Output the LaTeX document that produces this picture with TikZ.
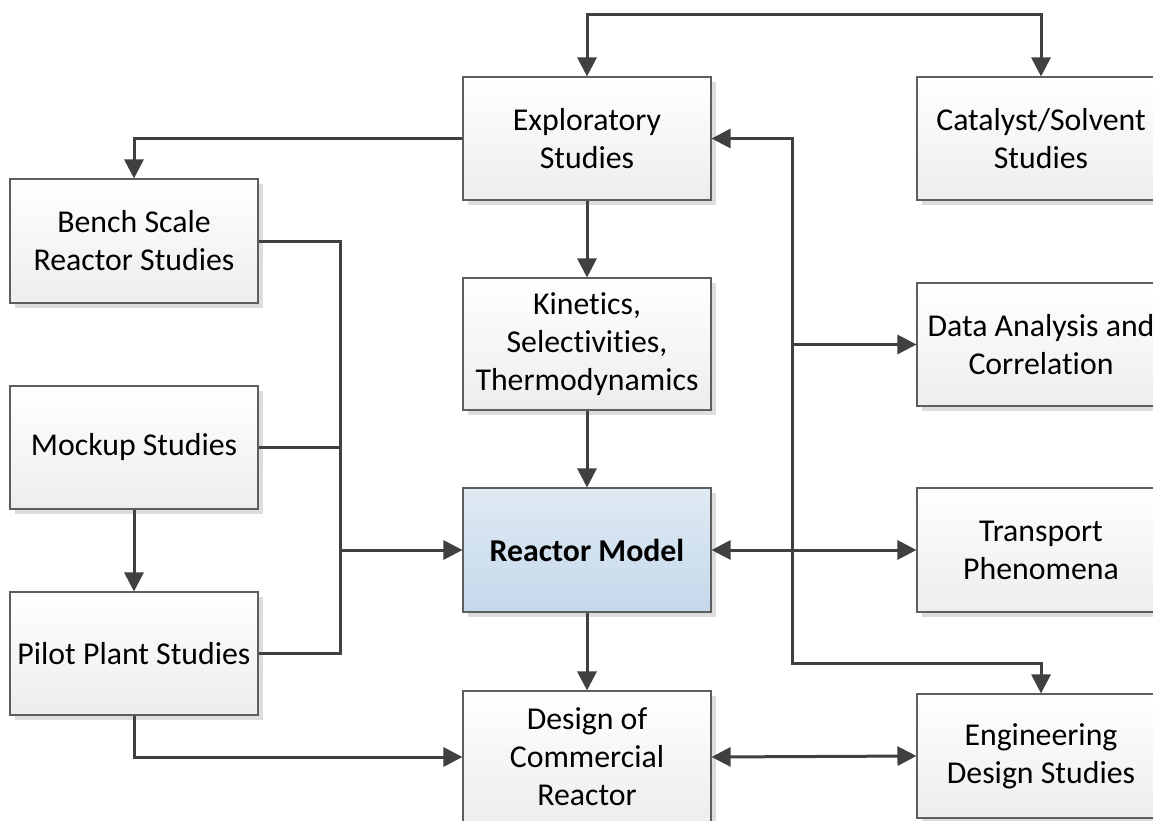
\documentclass[tikz,border=0pt]{standalone}
\usepackage{fontspec}
\setmainfont{Carlito}[Ligatures=NoCommon]
\usetikzlibrary{arrows.meta,shadows}

\definecolor{boxline}{HTML}{5E5E5E}
\definecolor{boxbottom}{HTML}{EDEDED}
\definecolor{modeltop}{HTML}{E0EAF4}
\definecolor{modelbottom}{HTML}{C4D8EA}
\definecolor{wire}{HTML}{404040}
\definecolor{shade}{HTML}{DDDDDD}

\tikzset{
  stagebox/.style={draw=boxline, line width=1.1pt, top color=white, bottom color=boxbottom,
    minimum width=248pt, minimum height=123pt, inner sep=0pt, align=center,
    font=\fontsize{31.8}{38}\selectfont,
    drop shadow={shadow xshift=5pt, shadow yshift=-5pt, fill=shade, opacity=1}},
  tallbox/.style={stagebox, minimum height=132pt},
  modelbox/.style={stagebox, top color=modeltop, bottom color=modelbottom,
    font=\fontsize{31.8}{38}\selectfont\bfseries},
  wireline/.style={draw=wire, line width=3pt},
  flow/.style={wireline, -{Triangle[length=19pt,width=19pt]}},
  twoway/.style={wireline, {Triangle[length=19pt,width=19pt]}-{Triangle[length=19pt,width=19pt]}},
}

\begin{document}
\begin{tikzpicture}[x=1pt, y=-1pt]
  \clip (0,0) rectangle (1153,821);
  \fill[white] (0,0) rectangle (1153,821);

  % boxes
  \node[stagebox] (expl)   at (587,138.5)  {Exploratory\\Studies};
  \node[stagebox] (cat)    at (1041,138.5) {Catalyst/Solvent\\Studies};
  \node[stagebox, minimum height=124pt] (bench) at (134,241) {Bench Scale\\Reactor Studies};
  \node[tallbox]  (kin)    at (587,344)    {Kinetics,\\Selectivities,\\Thermodynamics};
  \node[stagebox] (data)   at (1041,344.5) {Data Analysis and\\Correlation};
  \node[stagebox] (mock)   at (134,447.5)  {Mockup Studies};
  \node[modelbox, minimum height=124pt] (model) at (587,550) {Reactor Model};
  \node[stagebox, minimum height=124pt] (trans) at (1041,550) {Transport\\Phenomena};
  \node[stagebox] (pilot)  at (134,653.5)  {Pilot Plant Studies};
  \node[tallbox]  (design) at (587,757)    {Design of\\Commercial\\Reactor};
  \node[stagebox, minimum height=124pt] (eng) at (1041,756) {Engineering\\Design Studies};

  % routing points
  \coordinate (topL) at (587,15);
  \coordinate (topR) at (1041,15);
  \coordinate (busTop) at (340,241);
  \coordinate (busMid) at (340,447.5);
  \coordinate (busIn) at (340,550);
  \coordinate (busBot) at (340,653.5);
  \coordinate (rTop) at (792,138.5);
  \coordinate (rData) at (792,344.5);
  \coordinate (rBot) at (792,663);
  \coordinate (rEng) at (1041,663);

  % connectors
  \draw[twoway] (expl.north) -- (topL) -- (topR) -- (cat.north);
  \draw[flow] (expl.west) -| (bench.north);
  \draw[flow] (expl.south) -- (kin.north);
  \draw[flow] (kin.south) -- (model.north);
  \draw[flow] (model.south) -- (design.north);

  \draw[wireline] (bench.east) -- (busTop) -- (busBot) -- (pilot.east);
  \draw[wireline] (mock.east) -- (busMid);
  \draw[flow] (busIn) -- (model.west);

  \draw[flow] (mock.south) -- (pilot.north);
  \draw[flow] (pilot.south) |- (design.west);

  \draw[twoway] (model.east) -- (trans.west);
  \draw[twoway] (design.east) -- (eng.west);

  \draw[twoway] (expl.east) -- (rTop) -- (rBot) -- (rEng) -- (eng.north);
  \draw[flow] (rData) -- (data.west);
\end{tikzpicture}
\end{document}
